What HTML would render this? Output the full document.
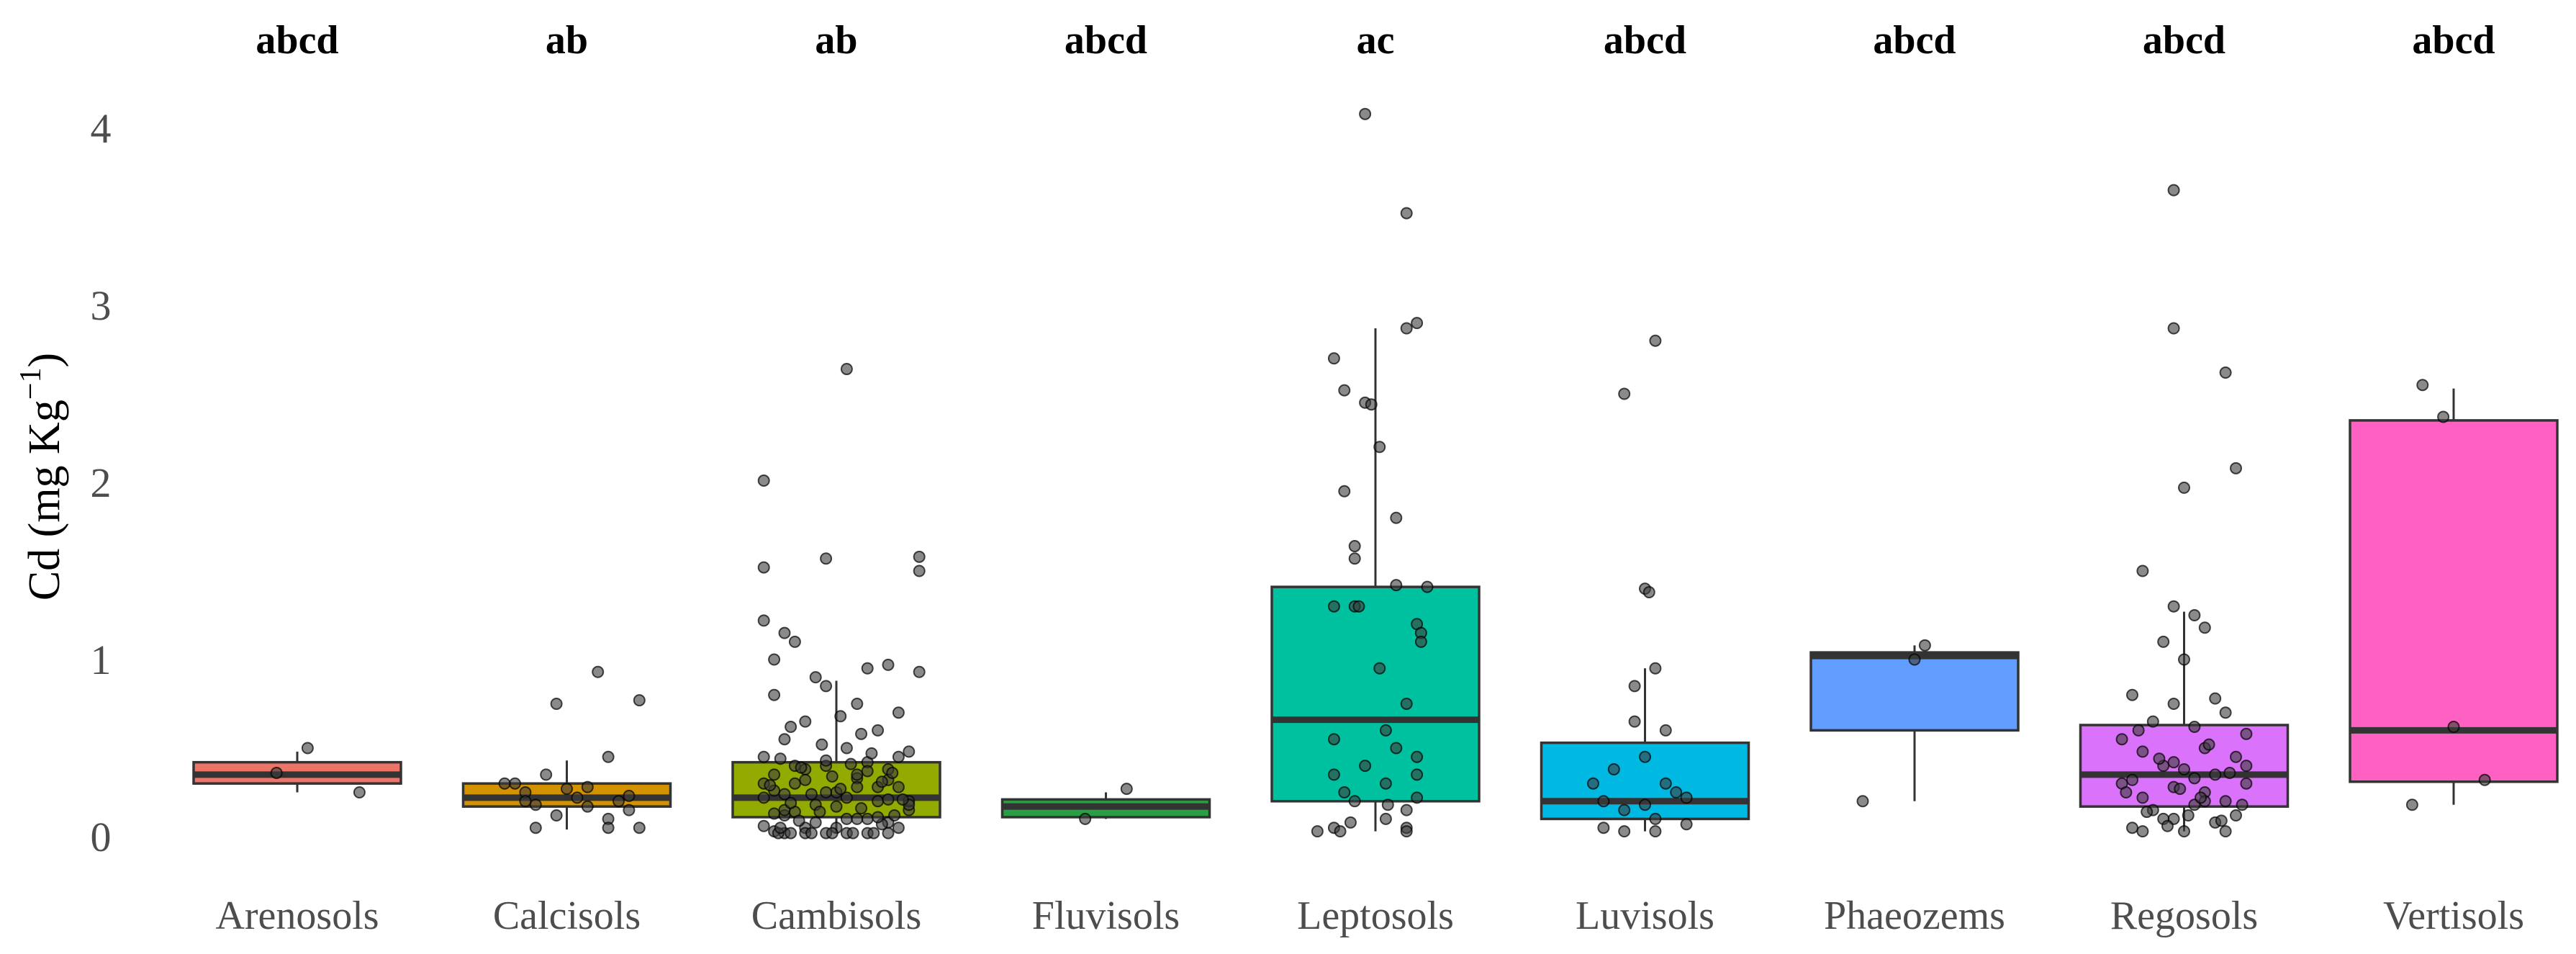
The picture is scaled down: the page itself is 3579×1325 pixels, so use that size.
<!DOCTYPE html>
<html><head><meta charset="utf-8"><style>
html,body{margin:0;padding:0;background:#fff;}
svg{display:block;font-family:"Liberation Serif",serif;}
</style></head><body>
<svg id="chart" width="3579" height="1325" viewBox="0 0 3579 1325"></svg>
<script>
const categories=["Arenosols","Calcisols","Cambisols","Fluvisols","Leptosols","Luvisols","Phaeozems","Regosols","Vertisols"];
const letters=["abcd","ab","ab","abcd","ac","abcd","abcd","abcd","abcd"];
const q1=[0.30,0.17,0.11,0.11,0.20,0.10,0.60,0.17,0.31];
const med=[0.35,0.22,0.22,0.17,0.66,0.20,1.02,0.35,0.60];
const q3=[0.42,0.30,0.42,0.21,1.41,0.53,1.04,0.63,2.35];
const wlo=[0.25,0.04,0.02,0.10,0.03,0.03,0.20,0.03,0.18];
const whi=[0.48,0.43,0.88,0.25,2.87,0.95,1.08,1.27,2.53];
const colors=["#ED7468","#D39200","#93AA00","#2A9E45","#00C19F","#00B9E3","#619CFF","#DB72FB","#FF61C3"];
const yTicks=[0,1,2,3,4];
const ptVals=[
[0.36,0.50,0.25],
[0.93,0.75,0.77,0.45,0.35,0.30,0.28,0.25,0.22,0.20,0.18,0.15,0.12,0.10,0.05,0.05,0.05,0.30,0.27,0.20,0.17,0.23],
[2.64,2.01,1.58,1.52,1.57,1.50,1.22,1.15,1.10,1.00,0.97,0.95,0.93,0.90,0.85,0.80,0.75,0.70,0.65,0.60,0.55,0.50,0.48,0.45,0.42,0.40,0.38,0.35,0.33,0.30,0.28,0.25,0.22,0.20,0.18,0.15,0.12,0.10,0.08,0.05,0.03,0.02,0.02,0.02,0.02,0.02,0.02,0.45,0.40,0.35,0.30,0.28,0.25,0.20,0.15,0.10,0.05,0.38,0.32,0.26,0.22,0.18,0.14,0.10,0.06,
 0.02,0.02,0.02,0.02,0.02,0.02,0.05,0.07,0.09,0.12,0.14,0.16,0.19,0.21,0.24,0.27,0.29,0.31,0.34,0.36,0.39,0.41,0.44,0.47,0.52,0.58,0.62,0.68,0.05,0.08,0.11,0.13,0.17,0.21,0.24,0.28,0.32,0.37,0.43],
[0.27,0.10],
[4.08,3.52,2.90,2.87,2.70,2.52,2.45,2.44,2.20,1.95,1.80,1.64,1.57,1.42,1.41,1.30,1.30,1.30,1.20,1.15,1.10,0.95,0.75,0.60,0.55,0.50,0.45,0.40,0.35,0.35,0.30,0.25,0.22,0.20,0.18,0.15,0.10,0.08,0.05,0.05,0.03,0.03,0.03],
[2.80,2.50,1.40,1.38,0.95,0.85,0.65,0.60,0.45,0.38,0.30,0.25,0.20,0.18,0.15,0.10,0.05,0.03,0.03,0.07,0.30,0.22],
[1.08,1.00,0.20],
[3.65,2.87,2.62,2.08,1.97,1.50,1.30,1.25,1.18,1.10,1.00,0.80,0.78,0.75,0.70,0.65,0.62,0.58,0.55,0.50,0.48,0.45,0.40,0.38,0.35,0.32,0.30,0.28,0.25,0.22,0.20,0.18,0.15,0.12,0.10,0.08,0.05,0.03,0.03,0.03,0.40,0.30,0.20,0.10,
 0.60,0.52,0.44,0.36,0.27,0.22,0.14,0.09,0.06,0.12,0.18,0.25,0.33,0.42],
[2.55,2.37,0.62,0.32,0.18]];
const ptJit=[
[-0.10,0.05,0.30],
[0.15,-0.05,0.35,0.20,-0.10,-0.25,0.10,-0.20,0.05,0.25,-0.15,0.30,-0.05,0.20,-0.15,0.20,0.35,-0.30,0.00,-0.20,0.10,0.30],
[0.05,-0.35,0.40,-0.35,-0.05,0.40,-0.35,-0.25,-0.20,-0.30,0.25,0.15,0.40,-0.10,-0.05,-0.30,0.10,0.30,-0.15,0.20,-0.25,0.05,0.35,-0.35,0.15,-0.05,0.25,-0.30,0.10,-0.20,0.30,0.00,-0.35,0.20,-0.10,0.35,-0.25,0.05,0.25,-0.15,-0.30,-0.25,-0.15,-0.05,0.05,0.15,0.25,0.30,-0.20,0.10,-0.35,0.20,-0.05,0.35,-0.25,0.15,0.00,-0.15,0.25,-0.30,0.05,0.35,-0.20,0.10,-0.35,
 -0.28,-0.22,-0.12,-0.02,0.08,0.18,-0.27,0.22,-0.18,0.28,-0.08,0.12,-0.22,0.32,-0.12,0.02,-0.32,0.22,-0.02,0.27,-0.17,0.07,-0.27,0.17,-0.07,0.12,-0.22,0.02,0.30,-0.10,0.20,-0.30,0.00,0.25,-0.25,0.10,-0.15,0.15,-0.05],
[0.10,-0.10],
[-0.05,0.15,0.20,0.15,-0.20,-0.15,-0.05,-0.02,0.02,-0.15,0.10,-0.10,-0.10,0.10,0.25,-0.20,-0.10,-0.08,0.20,0.22,0.22,0.02,0.15,0.05,-0.20,0.10,0.20,-0.05,-0.20,0.20,0.05,-0.15,0.20,-0.10,0.06,0.15,0.05,-0.12,-0.20,0.15,-0.28,-0.17,0.15],
[0.05,-0.10,0.00,0.02,0.05,-0.05,-0.05,0.10,0.00,-0.15,0.10,0.15,-0.20,0.00,-0.10,0.05,-0.20,-0.10,0.05,0.20,-0.25,0.20],
[0.05,0.00,-0.25],
[-0.05,-0.05,0.20,0.25,0.00,-0.20,-0.05,0.05,0.10,-0.10,0.00,-0.25,0.15,-0.05,0.20,-0.15,0.05,0.30,-0.30,0.10,-0.20,0.25,-0.10,0.00,0.15,-0.25,0.30,-0.05,0.10,-0.20,0.20,0.05,-0.15,0.25,-0.05,0.15,-0.25,-0.20,0.00,0.20,0.30,-0.30,0.10,-0.10,
 -0.22,0.12,-0.12,0.22,-0.02,0.08,-0.18,0.18,-0.08,0.02,0.28,-0.28,0.05,-0.05],
[-0.15,-0.05,0.00,0.15,-0.20]];
const NS="http://www.w3.org/2000/svg";
const svg=document.getElementById('chart');
const x0=413, step=374.5, boxW=288;
function xPos(i){return x0+i*step;}
function yPos(v){return 1162-246*v;}
function mk(tag,attrs,parent){const e=document.createElementNS(NS,tag);for(const k in attrs)e.setAttribute(k,attrs[k]);(parent||svg).appendChild(e);return e;}
yTicks.forEach(t=>{const e=mk('text',{x:140,y:yPos(t)+20,'text-anchor':'middle','font-size':58,fill:'#4d4d4d'});


e.textContent=t;});
const yt=mk('text',{x:0,y:0,transform:'translate(82,662) rotate(-90)','text-anchor':'middle','font-size':62,fill:'#000'});


yt.innerHTML='Cd (mg Kg<tspan dy="-26" font-size="42">−1</tspan><tspan dy="26">)</tspan>';
categories.forEach((c,i)=>{
 const cx=xPos(i);
 const g=mk('g',{});
 
 
 mk('line',{x1:cx,x2:cx,y1:yPos(whi[i]),y2:yPos(wlo[i]),stroke:'#333',"stroke-width":3},g);
 mk('rect',{x:cx-boxW/2,y:yPos(q3[i]),width:boxW,height:yPos(q1[i])-yPos(q3[i]),fill:colors[i],stroke:'#333',"stroke-width":3.5},g);
 mk('line',{x1:cx-boxW/2,x2:cx+boxW/2,y1:yPos(med[i]),y2:yPos(med[i]),stroke:'#333',"stroke-width":9},g);
 ptVals[i].forEach((v,j)=>{const p=mk('circle',{cx:cx+ptJit[i][j]*boxW,cy:yPos(v),r:7.5,fill:'rgba(60,60,60,0.6)',stroke:'rgba(0,0,0,0.7)','stroke-width':2},g);
  
  });
 const l=mk('text',{x:cx,y:1290,'text-anchor':'middle','font-size':56,fill:'#4d4d4d'});
 
 
 l.textContent=c;
 const s=mk('text',{x:cx,y:74,'text-anchor':'middle','font-size':56,'font-weight':'bold',fill:'#000'});
 
 
 s.textContent=letters[i];
});
</script>
</body></html>
